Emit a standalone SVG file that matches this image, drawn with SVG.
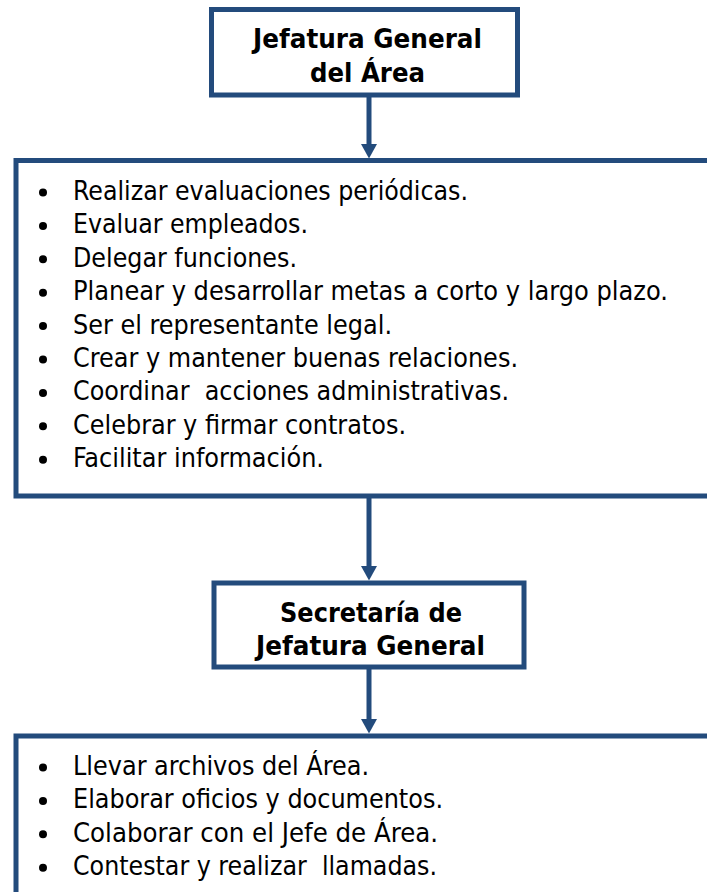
<svg xmlns="http://www.w3.org/2000/svg" width="707" height="892" viewBox="0 0 707 892">
<style>
.box{fill:#fff;stroke:#234B7C;stroke-width:5}
.open{fill:none;stroke:#234B7C;stroke-width:5}
.shaft{stroke:#234B7C;stroke-width:5;fill:none}
.head{fill:#234B7C}
.title{font-family:"DejaVu Sans","Liberation Sans",sans-serif;font-weight:bold;font-size:26px;fill:#000;text-anchor:middle}
.item{font-family:"DejaVu Sans","Liberation Sans",sans-serif;font-stretch:condensed;font-size:27px;fill:#000;white-space:pre}
.dot{fill:#000}
</style>
<rect width="707" height="892" fill="#fff"/>
<g id="connectors">
<line class="shaft" x1="369" y1="97" x2="369" y2="146"/>
<polygon class="head" points="361,144 377,144 369,158.5"/>
<line class="shaft" x1="369" y1="498" x2="369" y2="568"/>
<polygon class="head" points="361,566 377,566 369,580.5"/>
<line class="shaft" x1="369" y1="669" x2="369" y2="721"/>
<polygon class="head" points="361,719 377,719 369,733.5"/>
</g>
<g id="jefatura">
<rect class="box" x="211.5" y="9.5" width="306" height="85.5"/>
<text class="title" x="367.5" y="48" textLength="229" lengthAdjust="spacingAndGlyphs">Jefatura General</text>
<text class="title" x="367.5" y="82" textLength="115" lengthAdjust="spacingAndGlyphs">del Área</text>
</g>
<g id="funciones-jefatura">
<path class="open" d="M712 160.5 H16 V496 H712"/>
<g class="dot">
<circle cx="43" cy="192.5" r="4"/><circle cx="43" cy="225.9" r="4"/><circle cx="43" cy="259.3" r="4"/>
<circle cx="43" cy="292.7" r="4"/><circle cx="43" cy="326.1" r="4"/><circle cx="43" cy="359.5" r="4"/>
<circle cx="43" cy="392.9" r="4"/><circle cx="43" cy="426.3" r="4"/><circle cx="43" cy="459.7" r="4"/>
</g>
<text class="item" x="73" y="200" textLength="395" lengthAdjust="spacingAndGlyphs">Realizar evaluaciones periódicas.</text>
<text class="item" x="73" y="233.4" textLength="235" lengthAdjust="spacingAndGlyphs">Evaluar empleados.</text>
<text class="item" x="73" y="266.8" textLength="224" lengthAdjust="spacingAndGlyphs">Delegar funciones.</text>
<text class="item" x="73" y="300.2" textLength="595" lengthAdjust="spacingAndGlyphs">Planear y desarrollar metas a corto y largo plazo.</text>
<text class="item" x="73" y="333.6" textLength="319" lengthAdjust="spacingAndGlyphs">Ser el representante legal.</text>
<text class="item" x="73" y="367" textLength="445" lengthAdjust="spacingAndGlyphs">Crear y mantener buenas relaciones.</text>
<text class="item" x="73" y="400.4" textLength="436" lengthAdjust="spacingAndGlyphs">Coordinar  acciones administrativas.</text>
<text class="item" x="73" y="433.8" textLength="333" lengthAdjust="spacingAndGlyphs">Celebrar y firmar contratos.</text>
<text class="item" x="73" y="467.2" textLength="251" lengthAdjust="spacingAndGlyphs">Facilitar información.</text>
</g>
<g id="secretaria">
<rect class="box" x="214" y="583" width="310" height="84"/>
<text class="title" x="371" y="622" textLength="182" lengthAdjust="spacingAndGlyphs">Secretaría de</text>
<text class="title" x="370.5" y="655" textLength="229" lengthAdjust="spacingAndGlyphs">Jefatura General</text>
</g>
<g id="funciones-secretaria">
<path class="open" d="M712 736 H16 V900"/>
<g class="dot">
<circle cx="43" cy="767.5" r="4"/><circle cx="43" cy="800.9" r="4"/><circle cx="43" cy="834.3" r="4"/><circle cx="43" cy="867.7" r="4"/>
</g>
<text class="item" x="73" y="775" textLength="296" lengthAdjust="spacingAndGlyphs">Llevar archivos del Área.</text>
<text class="item" x="73" y="808.4" textLength="370" lengthAdjust="spacingAndGlyphs">Elaborar oficios y documentos.</text>
<text class="item" x="73" y="841.8" textLength="365" lengthAdjust="spacingAndGlyphs">Colaborar con el Jefe de Área.</text>
<text class="item" x="73" y="875.2" textLength="364" lengthAdjust="spacingAndGlyphs">Contestar y realizar  llamadas.</text>
</g>
</svg>
